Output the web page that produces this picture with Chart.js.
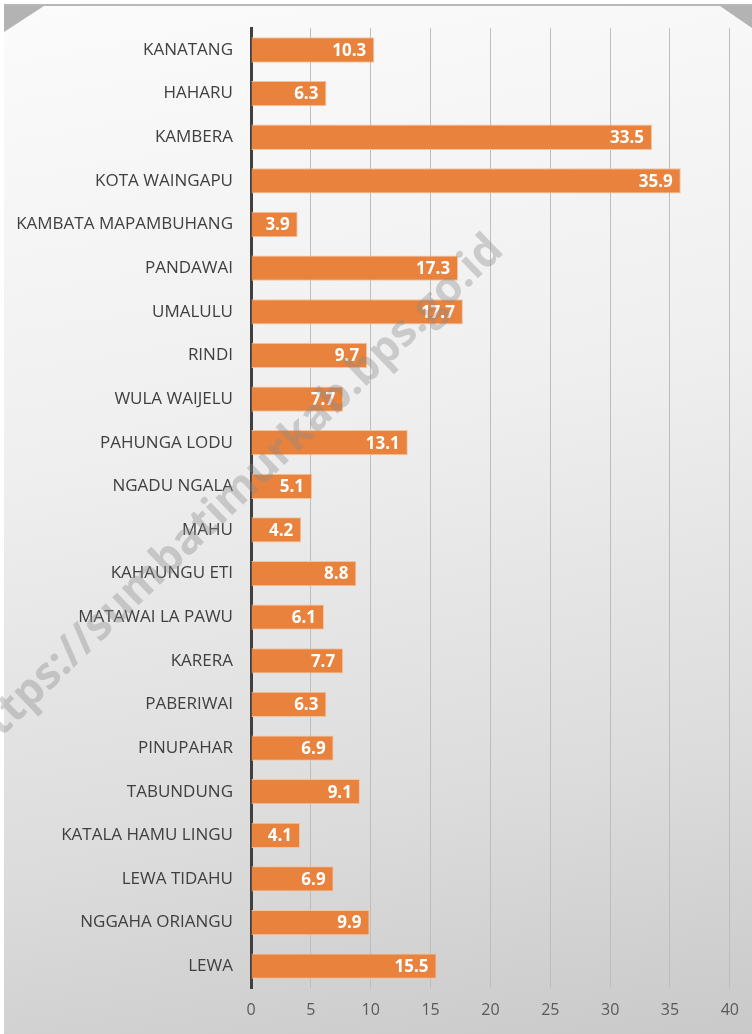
<!DOCTYPE html>
<html>
<head>
<meta charset="utf-8">
<script src="https://cdn.jsdelivr.net/npm/chart.js@4/dist/chart.umd.min.js"></script>
<style>
  html, body { margin: 0; padding: 0; background: #fff; }
  #frame {
    position: absolute; left: 4px; top: 4px; width: 748px; height: 1030px;
    border-top: 2px solid #b8b8b8;
    background: linear-gradient(170deg, #fbfbfb 0%, #efefef 40%, #dcdcdc 75%, #c9c9c9 100%);
  }
  .corner { position: absolute; background: #b3b3b3; }
  #cl { left: 0; top: 0; width: 40px; height: 26px; clip-path: polygon(0 0, 100% 0, 0 100%); }
  #cr { right: 0; top: 0; width: 32px; height: 22px; clip-path: polygon(0 0, 100% 0, 100% 100%); }
  #wrap { position: absolute; left: 0; top: 0; width: 752px; height: 1034px; }
</style>
</head>
<body>
<div id="frame"><div class="corner" id="cl"></div><div class="corner" id="cr"></div></div>
<div id="wrap"><canvas id="chart"></canvas></div>
<script>
const districts = [
  "KANATANG", "HAHARU", "KAMBERA", "KOTA WAINGAPU", "KAMBATA MAPAMBUHANG",
  "PANDAWAI", "UMALULU", "RINDI", "WULA WAIJELU", "PAHUNGA LODU",
  "NGADU NGALA", "MAHU", "KAHAUNGU ETI", "MATAWAI LA PAWU", "KARERA",
  "PABERIWAI", "PINUPAHAR", "TABUNDUNG", "KATALA HAMU LINGU", "LEWA TIDAHU",
  "NGGAHA ORIANGU", "LEWA"
];
const values = [
  10.3, 6.3, 33.5, 35.9, 3.9,
  17.3, 17.7, 9.7, 7.7, 13.1,
  5.1, 4.2, 8.8, 6.1, 7.7,
  6.3, 6.9, 9.1, 4.1, 6.9,
  9.9, 15.5
];
const xTicks = [0, 5, 10, 15, 20, 25, 30, 35, 40];
const watermark = "https://sumbatimurkab.bps.go.id";

const FONT = "'Open Sans', 'Noto Sans', sans-serif";

// white value labels near the end of each bar
const barLabels = {
  id: "barLabels",
  afterDatasetsDraw(chart) {
    const ctx = chart.ctx;
    const meta = chart.getDatasetMeta(0);
    ctx.save();
    ctx.fillStyle = "#ffffff";
    ctx.font = "bold 17px " + FONT;
    ctx.textAlign = "right";
    ctx.textBaseline = "middle";
    meta.data.forEach((bar, i) => {
      ctx.fillText(values[i].toFixed(1), bar.x - 8, bar.y + 1);
    });
    ctx.restore();
  }
};

const wmark = {
  id: "wmark",
  afterDraw(chart) {
    const ctx = chart.ctx;
    ctx.save();
    ctx.translate(234, 496);
    ctx.rotate(-Math.PI / 4.1);
    ctx.font = "bold 44px " + FONT;
    ctx.fillStyle = "rgba(140,140,140,0.38)";
    ctx.textAlign = "center";
    ctx.textBaseline = "middle";
    ctx.fillText(watermark, 0, 0);
    ctx.restore();
  }
};

new Chart(document.getElementById("chart"), {
  type: "bar",
  data: {
    labels: districts,
    datasets: [{
      data: values,
      backgroundColor: "#e8823d",
      borderColor: "#f5c49c",
      borderWidth: 1,
      borderSkipped: "left",
      categoryPercentage: 1,
      barPercentage: 0.58
    }]
  },
  options: {
    indexAxis: "y",
    responsive: true,
    maintainAspectRatio: false,
    animation: false,
    layout: { padding: { top: 27, right: 12, bottom: 0, left: 0 } },
    plugins: { legend: { display: false }, tooltip: { enabled: false } },
    scales: {
      x: {
        min: 0, max: 40,
        afterBuildTicks(axis) { axis.ticks = xTicks.map(v => ({ value: v })); },
        grid: { color: "#bdbdbd", lineWidth: 1, drawTicks: false },
        border: { display: false },
        ticks: { color: "#595959", font: { family: FONT, size: 16 }, padding: 13 },
        afterFit(axis) { axis.height = 46; }
      },
      y: {
        grid: { display: false, drawTicks: false },
        border: { display: true, color: "#404040", width: 3 },
        ticks: { color: "#404040", font: { family: FONT, size: 17 }, padding: 18, autoSkip: false },
        afterFit(axis) { axis.width = 251; }
      }
    }
  },
  plugins: [barLabels, wmark]
});
</script>
</body>
</html>
